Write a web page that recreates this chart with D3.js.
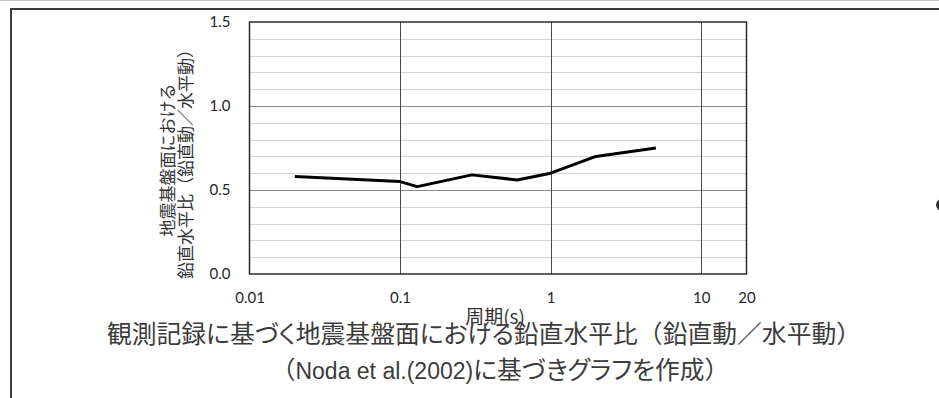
<!DOCTYPE html>
<html>
<head>
<meta charset="utf-8">
<script src="https://cdn.jsdelivr.net/npm/d3@7/dist/d3.min.js"></script>
<style>
  html, body { margin: 0; padding: 0; background: #fff; }
  svg { display: block; }
  .jp  { font-family: 'Noto Sans CJK JP', 'Noto Sans', sans-serif; font-feature-settings: "palt"; }
  .jpf { font-family: 'Noto Sans CJK JP', 'Noto Sans', sans-serif; }
  .lat { font-family: 'Liberation Sans', Arial, sans-serif; }
</style>
</head>
<body>
<svg id="chart" width="939" height="398"></svg>
<script>
// Period (s) and vertical/horizontal spectral ratio at the seismic bedrock
const periods = [0.02, 0.1, 0.13, 0.3, 0.6, 1, 2, 5];
const ratios  = [0.58, 0.55, 0.52, 0.59, 0.56, 0.60, 0.70, 0.75];

const xTicks = [0.01, 0.1, 1, 10, 20];
const xMajorGrid = [0.1, 1, 10];
const yTicks = [0, 0.5, 1.0, 1.5];
const yMajorGrid = [0.5, 1.0];
const yMinorGrid = [0.1, 0.2, 0.3, 0.4, 0.6, 0.7, 0.8, 0.9, 1.1, 1.2, 1.3, 1.4];

// caption runs: [text, style class] (full-width punctuation keeps its full width)
const titleLine1 = [
  ["観測記録に基づく地震基盤面における鉛直水平比", "jp"], ["（", "jpf"],
  ["鉛直動", "jp"], ["／", "jpf"], ["水平動", "jp"], ["）", "jpf"]
];
const titleLine2 = [
  ["（", "jpf"], ["Noda et al.(2002)", "lat"], ["に基づきグラフを作成", "jp"], ["）", "jpf"]
];
const yTitleLines = ["地震基盤面における", "鉛直水平比（鉛直動／水平動）"];
const xTitle = "周期(s)";

const num = "Lato, 'Open Sans', sans-serif";

const svg = d3.select("#chart");
const W = 939, H = 398;
const plot = { left: 249.5, right: 746.5, top: 22, bottom: 274 };

// frame of the figure panel
svg.append("line").attr("x1", 0).attr("x2", W).attr("y1", 0.5).attr("y2", 0.5)
  .attr("stroke", "#c8c8c8").attr("stroke-width", 1);
svg.append("line").attr("x1", 10).attr("x2", W).attr("y1", 9).attr("y2", 9)
  .attr("stroke", "#3a3a3a").attr("stroke-width", 2);
svg.append("line").attr("x1", 11).attr("x2", 11).attr("y1", 8).attr("y2", H)
  .attr("stroke", "#3a3a3a").attr("stroke-width", 2);
svg.append("circle").attr("cx", 942).attr("cy", 205).attr("r", 6).attr("fill", "#333");

const x = d3.scaleLog().domain([0.01, 20]).range([plot.left, plot.right]);
const y = d3.scaleLinear().domain([0, 1.5]).range([plot.bottom, plot.top]);

const g = svg.append("g");

// minor horizontal gridlines (dotted)
g.selectAll(".yminor").data(yMinorGrid).join("line")
  .attr("x1", plot.left).attr("x2", plot.right)
  .attr("y1", d => Math.round(y(d)) + 0.5).attr("y2", d => Math.round(y(d)) + 0.5)
  .attr("stroke", "#a8a8a8").attr("stroke-width", 1).attr("stroke-dasharray", "1,1");

// major horizontal gridlines
g.selectAll(".ymajor").data(yMajorGrid).join("line")
  .attr("x1", plot.left).attr("x2", plot.right)
  .attr("y1", d => Math.round(y(d)) + 0.5).attr("y2", d => Math.round(y(d)) + 0.5)
  .attr("stroke", "#8a8a8a").attr("stroke-width", 1);

// major vertical gridlines at each decade
g.selectAll(".xmajor").data(xMajorGrid).join("line")
  .attr("x1", d => Math.round(x(d)) + 0.5).attr("x2", d => Math.round(x(d)) + 0.5)
  .attr("y1", plot.top).attr("y2", plot.bottom)
  .attr("stroke", "#4a4a4a").attr("stroke-width", 1);

// plot border
g.append("rect")
  .attr("x", plot.left).attr("y", plot.top)
  .attr("width", plot.right - plot.left).attr("height", plot.bottom - plot.top)
  .attr("fill", "none").attr("stroke", "#2a2a2a").attr("stroke-width", 1.5);

// data line
const line = d3.line().x(d => x(d[0])).y(d => y(d[1]));
g.append("path")
  .datum(periods.map((p, i) => [p, ratios[i]]))
  .attr("d", line)
  .attr("fill", "none").attr("stroke", "#000").attr("stroke-width", 3)
  .attr("stroke-linejoin", "round");

// x axis tick labels
const xAxis = d3.axisBottom(x).tickValues(xTicks).tickSize(0).tickPadding(18)
  .tickFormat(d => String(d));
const xa = svg.append("g").attr("transform", `translate(0,${plot.bottom})`).call(xAxis);
xa.select(".domain").remove();
xa.selectAll("text").attr("font-family", num).attr("font-size", 15).attr("fill", "#262626");

// y axis tick labels
const yAxis = d3.axisLeft(y).tickValues(yTicks).tickSize(0).tickPadding(19)
  .tickFormat(d3.format(".1f"));
const ya = svg.append("g").attr("transform", `translate(${plot.left},0)`).call(yAxis);
ya.select(".domain").remove();
ya.selectAll("text").attr("font-family", num).attr("font-size", 15).attr("fill", "#262626");

// axis titles
svg.append("text").attr("class", "jpf")
  .attr("x", 495).attr("y", 324)
  .attr("text-anchor", "middle")
  .attr("font-size", 19).attr("fill", "#333")
  .text(xTitle);

const yTitle = svg.append("text").attr("class", "jpf")
  .attr("transform", "rotate(-90)")
  .attr("text-anchor", "middle")
  .attr("font-size", 17).attr("fill", "#333");
yTitleLines.forEach((t, i) => {
  yTitle.append("tspan").attr("x", -160).attr("y", 174 + i * 17.5).text(t);
});

// chart caption
const cap1 = svg.append("text")
  .attr("x", 484).attr("y", 343)
  .attr("text-anchor", "middle")
  .attr("font-size", 24.8).attr("fill", "#3c3c3c");
titleLine1.forEach(([t, cls]) => cap1.append("tspan").attr("class", cls).text(t));

const cap2 = svg.append("text")
  .attr("x", 500).attr("y", 379)
  .attr("text-anchor", "middle")
  .attr("font-size", 24.8).attr("fill", "#3c3c3c");
titleLine2.forEach(([t, cls]) => {
  const s = cap2.append("tspan").attr("class", cls).text(t);
  if (cls === "lat") s.attr("font-size", 23);
});
</script>
</body>
</html>
